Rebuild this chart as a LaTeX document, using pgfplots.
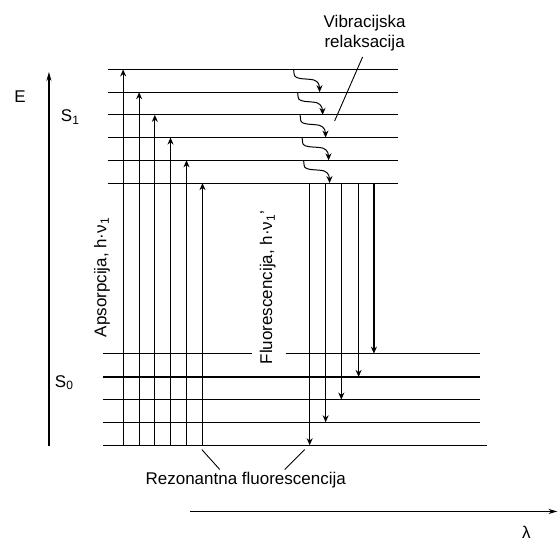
\documentclass[border=0pt]{standalone}
\usepackage{fontspec}
\setmainfont{Liberation Sans}
\usepackage{pgfplots}
\pgfplotsset{compat=1.18}
\usetikzlibrary{arrows.meta}
\newcommand{\sub}[1]{\raisebox{-0.3ex}{\fontsize{12}{12}\selectfont #1}}
\tikzset{ln/.style={black,solid,line width=1.2pt},
  ar/.style={ln,-{Stealth[length=7pt,width=6pt]}},
  lab/.style={font=\fontsize{17}{21}\selectfont}}
\begin{document}
\begin{tikzpicture}
\begin{axis}[x=1pt,y=1pt,y dir=reverse,xmin=0,xmax=558,ymin=0,ymax=544,
  hide axis,clip=false,
  every axis plot/.append style={no marks}]
\addplot[draw=none] coordinates {(0,0) (558,544)};
% S1 levels
\addplot[ln] coordinates {(108,69.5) (398,69.5)};
\addplot[ln] coordinates {(108,92.3) (398,92.3)};
\addplot[ln] coordinates {(108,115) (398,115)};
\addplot[ln] coordinates {(108,137.7) (398,137.7)};
\addplot[ln] coordinates {(108,160.5) (398,160.5)};
\addplot[ln] coordinates {(108,183.3) (398,183.3)};
% S0 levels
\addplot[ln] coordinates {(103,354) (252,354)};
\addplot[ln] coordinates {(286,354) (481,354)};
\addplot[ln] coordinates {(103,377.3) (481,377.3)};
\addplot[ln] coordinates {(103,400) (481,400)};
\addplot[ln] coordinates {(103,422.7) (481,422.7)};
\addplot[ln] coordinates {(103,445.7) (488,445.7)};
% absorption
\addplot[ar] coordinates {(123.3,445.7) (123.3,69.5)};
\addplot[ar] coordinates {(139.3,445.7) (139.3,92.3)};
\addplot[ar] coordinates {(155,445.7) (155,115)};
\addplot[ar] coordinates {(170.7,445.7) (170.7,137.7)};
\addplot[ar] coordinates {(186.7,445.7) (186.7,160.5)};
\addplot[ar] coordinates {(202.7,445.7) (202.7,183.3)};
% fluorescence
\addplot[ar] coordinates {(310,183.3) (310,445.7)};
\addplot[ar] coordinates {(326,183.3) (326,422.7)};
\addplot[ar] coordinates {(341.7,183.3) (341.7,400)};
\addplot[ar] coordinates {(359,183.3) (359,377.3)};
\addplot[ar] coordinates {(374.3,183.3) (374.3,354)};
% vibrational relaxation
\addplot[ar,line width=1pt,smooth,tension=0.5] coordinates {(294,69.5) (295,76) (300,78.5) (314,80) (319,84) (320,92.3)};
\addplot[ar,line width=1pt,smooth,tension=0.5] coordinates {(298,92.3) (299,99) (304,101.3) (317,102.8) (322,107) (323,115)};
\addplot[ar,line width=1pt,smooth,tension=0.5] coordinates {(300.5,115) (301.5,121.7) (306.5,124) (320,125.5) (325,129.7) (326,137.7)};
\addplot[ar,line width=1pt,smooth,tension=0.5] coordinates {(302.5,137.7) (303.5,144.4) (308.5,146.7) (323,148.2) (328,152.4) (329,160.5)};
\addplot[ar,line width=1pt,smooth,tension=0.5] coordinates {(304,160.5) (305,167.2) (310,169.5) (324,171) (329,175.2) (330,183.3)};
% pointer lines
\addplot[ln,line width=0.9pt] coordinates {(363,57) (335,121)};
\addplot[ln,line width=0.9pt] coordinates {(202,450) (220,470)};
\addplot[ln,line width=0.9pt] coordinates {(305,450) (285,470)};
% axes
\addplot[ln,-{Stealth[length=9pt,width=5pt]}] coordinates {(49,446) (49,72)};
\addplot[ln,-{Stealth[length=9pt,width=5pt]}] coordinates {(190,512) (558,512)};
% labels
\node[lab] at (axis cs:20,97) {E};
\node[lab] at (axis cs:70,117) {S\sub{1}};
\node[lab] at (axis cs:64,383) {S\sub{0}};
\node[lab] at (axis cs:527,533) {λ};
\node[lab,align=center,inner sep=0pt] at (axis cs:365,33) {Vibracijska\\[-1pt]relaksacija};
\node[lab] at (axis cs:246,481) {Rezonantna fluorescencija};
\node[lab,rotate=90] at (axis cs:102,278) {Apsorpcija, h·ν\sub{1}};
\node[lab,rotate=90] at (axis cs:268,288) {Fluorescencija, h·ν\sub{1}'};
\end{axis}
\end{tikzpicture}
\end{document}
